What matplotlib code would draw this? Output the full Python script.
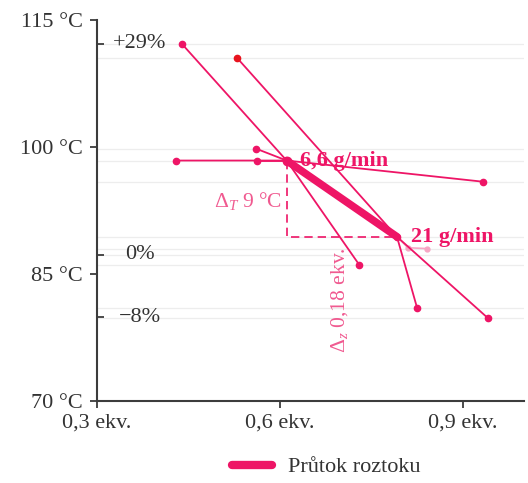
"""Sensitivity chart: reaction temperature vs. equivalents, solution flow."""

import matplotlib
matplotlib.use("Agg")
import matplotlib.pyplot as plt
from matplotlib.lines import Line2D

plt.rcParams["font.family"] = ["Liberation Serif", "DejaVu Serif"]
plt.rcParams["mathtext.fontset"] = "custom"
plt.rcParams["mathtext.rm"] = "Liberation Serif"
plt.rcParams["mathtext.it"] = "Liberation Serif:italic"

PINK = "#ee1566"
RED = "#e8141e"
LIGHT = "#f7a6c4"
SOFT = "#f05a90"
AXIS = "#3c3c3c"

# base points (equivalents, deg C)
base_low = (0.611, 98.4)    # 6,6 g/min
base_high = (0.792, 89.4)   # 21 g/min

# sensitivity lines through the base points
line1_x = [0.439, 0.611, 0.730]
line1_y = [112.2, 98.4, 86.1]
line2_x = [0.530, 0.792, 0.941]
line2_y = [110.5, 89.4, 79.8]
line3_x = [0.430, 0.611, 0.933]
line3_y = [98.4, 98.4, 95.9]
line4_x = [0.562, 0.611]
line4_y = [98.4, 98.4]
line5_x = [0.561, 0.611]
line5_y = [99.8, 98.4]
line6_x = [0.792, 0.825]
line6_y = [89.4, 81.0]
faint_x = [0.792, 0.810, 0.841]
faint_y = [89.4, 88.1, 88.0]

pct_values = [112.2, 87.3, 79.9]
pct_labels = ["+29%", "0%", "\u22128%"]

y_ticks = [70, 85, 100, 115]
y_labels = ["70 °C", "85 °C", "100 °C", "115 °C"]
x_ticks = [0.3, 0.6, 0.9]
x_labels = ["0,3 ekv.", "0,6 ekv.", "0,9 ekv."]

FS = 16

fig = plt.figure(figsize=(5.28, 4.83), dpi=100)
ax = fig.add_axes([0.1837, 0.1698, 0.8083, 0.7888])
ax.set_xlim(0.3, 1.0)
ax.set_ylim(70, 115)

# faint guide lines at the point levels
for y in [112.2, 110.5, 99.8, 98.4, 95.9, 89.4, 88.0, 87.3, 86.1, 81.0, 79.8]:
    ax.axhline(y, color="#ededed", lw=0.9, zorder=0)

for xs, ys in [(line1_x, line1_y), (line3_x, line3_y), (line4_x, line4_y),
               (line5_x, line5_y), (line6_x, line6_y)]:
    ax.plot(xs, ys, color=PINK, lw=1.3, zorder=3)
    ax.plot([xs[0], xs[-1]], [ys[0], ys[-1]], ls="none", marker="o",
            ms=4.5, color=PINK, zorder=4)
ax.plot(line2_x, line2_y, color=PINK, lw=1.3, zorder=3)
ax.plot(line2_x[-1], line2_y[-1], ls="none", marker="o", ms=4.5,
        color=PINK, zorder=4)
ax.plot(line2_x[0], line2_y[0], ls="none", marker="o", ms=4.5,
        color=RED, zorder=4)
ax.plot(faint_x, faint_y, color=LIGHT, lw=1.2, zorder=2)
ax.plot(faint_x[1:], faint_y[1:], ls="none", marker="o", ms=3.5,
        color=LIGHT, zorder=2)

# flow line between the two base points
ax.plot([base_low[0], base_high[0]], [base_low[1], base_high[1]],
        color=PINK, lw=5.5, solid_capstyle="round", zorder=5)
ax.plot(*base_low, marker="o", ms=6, color=PINK, zorder=6)

# step between base points
ax.plot([base_low[0], base_low[0], base_high[0]],
        [base_low[1], base_high[1], base_high[1]],
        color=PINK, lw=1.2, ls=(0, (5, 3)), zorder=2)
ax.text(base_low[0] - 0.008, (base_low[1] + base_high[1]) / 2 - 0.3,
        r"$\Delta_T$ 9 °C", color=SOFT, fontsize=FS - 0.5, ha="right",
        va="center")
ax.text((base_low[0] + base_high[0]) / 2 - 0.004, base_high[1] - 1.2,
        r"$\Delta_z$ 0,18 ekv.", color=SOFT, fontsize=FS - 0.5,
        rotation=90, ha="center", va="top")

ax.text(base_low[0] + 0.022, base_low[1], "6,6 g/min", color=PINK,
        fontsize=FS, fontweight="bold", ha="left", va="center", zorder=7)
ax.text(base_high[0] + 0.023, base_high[1], "21 g/min", color=PINK,
        fontsize=FS, fontweight="bold", ha="left", va="center", zorder=7)

# axes styling
for side in ["top", "right"]:
    ax.spines[side].set_visible(False)
for side in ["left", "bottom"]:
    ax.spines[side].set_color(AXIS)
    ax.spines[side].set_linewidth(1.5)
ax.set_yticks(y_ticks, y_labels)
ax.set_xticks(x_ticks, x_labels)
ax.tick_params(axis="both", direction="out", length=5, width=1.3,
               color=AXIS, labelcolor="#333333", labelsize=FS)
ax.tick_params(axis="y", pad=5)
ax.tick_params(axis="x", pad=4)

ax.set_yticks(pct_values, minor=True)
ax.tick_params(axis="y", which="minor", direction="in", length=5,
               width=1.3, color=AXIS)
for val, lab in zip(pct_values, pct_labels):
    ax.text(0.1, val, lab, transform=ax.get_yaxis_transform(),
            ha="center", va="center", fontsize=FS, color="#333333")

handle = Line2D([], [], color=PINK, lw=6, solid_capstyle="round")
fig.legend([handle], ["Průtok roztoku"], loc="center",
           bbox_to_anchor=(326 / 528, 1 - 467 / 483), frameon=False,
           fontsize=FS, handlelength=1.8, handletextpad=0.7,
           labelcolor="#333333")

fig.savefig("out.png", dpi=100)
